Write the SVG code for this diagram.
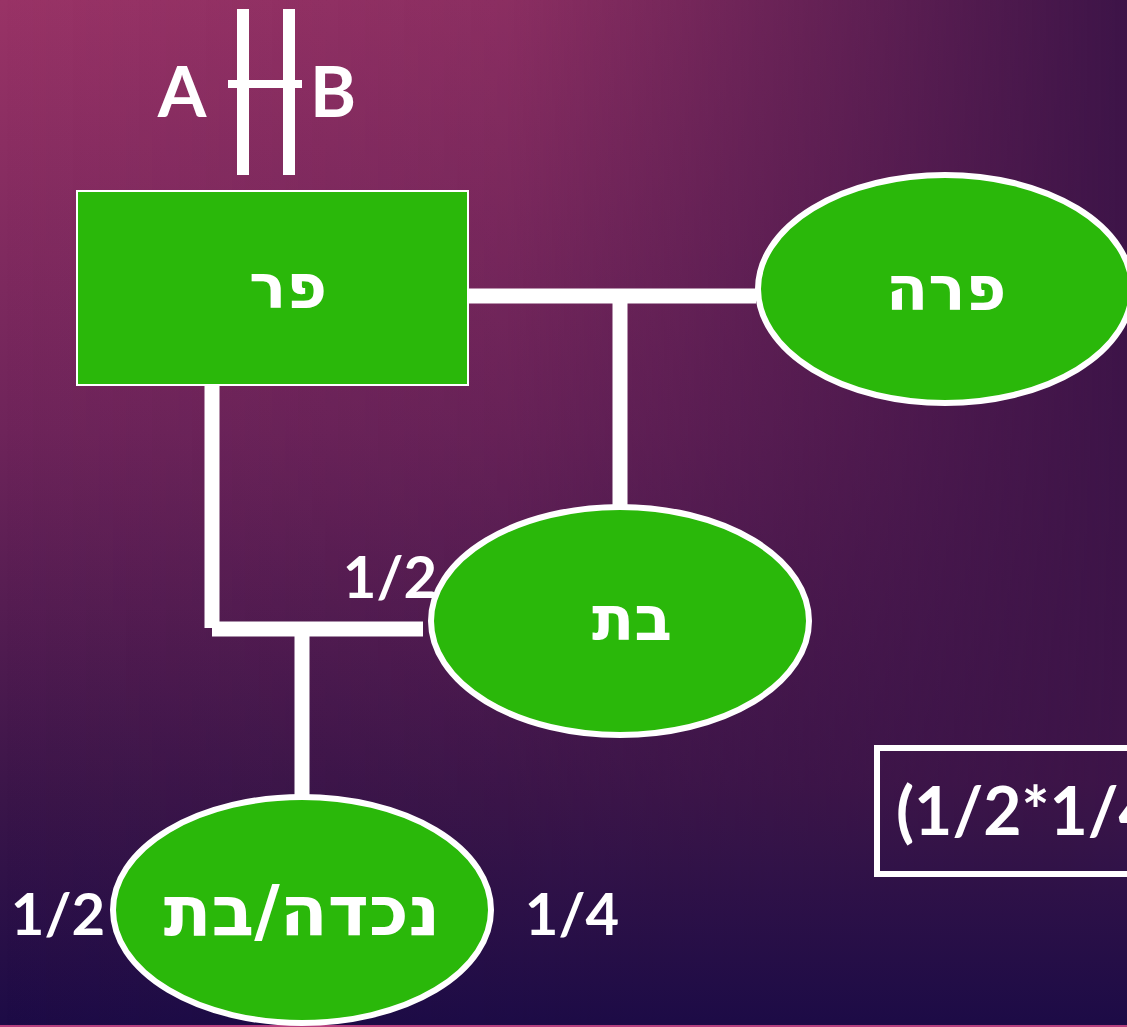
<svg xmlns="http://www.w3.org/2000/svg" width="1127" height="1027" viewBox="0 0 1127 1027">
  <defs>
    <linearGradient id="bgV" x1="0" y1="0" x2="0" y2="1027" gradientUnits="userSpaceOnUse">
      <stop offset="0" stop-color="#993366"/>
      <stop offset="0.42" stop-color="#6e245a"/>
      <stop offset="0.78" stop-color="#3a1549"/>
      <stop offset="1" stop-color="#1c0b46"/>
    </linearGradient>
    <linearGradient id="bgH" x1="0" y1="0" x2="1127" y2="0" gradientUnits="userSpaceOnUse">
      <stop offset="0" stop-color="#3d1448" stop-opacity="0"/>
      <stop offset="0.45" stop-color="#3d1448" stop-opacity="0.15"/>
      <stop offset="0.75" stop-color="#3d1448" stop-opacity="0.6"/>
      <stop offset="1" stop-color="#3d1448" stop-opacity="1"/>
    </linearGradient>
    <style>
      .node { fill: #2ab80a; stroke: #ffffff; stroke-width: 6; }
      .box { fill: #2ab80a; stroke: #ffffff; stroke-width: 2; }
      .wire { stroke: #ffffff; stroke-width: 15; fill: none; stroke-linecap: butt; }
      .heb { font-family: "DejaVu Sans", "Liberation Sans", sans-serif; font-weight: bold; font-size: 62px; fill: #ffffff; text-anchor: middle; }
      .lbl { font-family: Lato, "Open Sans", sans-serif; font-weight: bold; font-size: 58px; fill: #ffffff; }
      .big { font-size: 70px; text-anchor: middle; }
      .frame { fill: none; stroke: #ffffff; stroke-width: 6; }
    </style>
  </defs>

  <!-- background: vertical fade, darkened towards the right -->
  <rect x="0" y="0" width="1127" height="1027" fill="url(#bgV)"/>
  <rect x="0" y="0" width="1127" height="1027" fill="url(#bgH)" style="mix-blend-mode:darken"/>
  <rect x="0" y="1025" width="1127" height="2" fill="#b8407e"/>

  <!-- parent pair marker -->
  <g id="pair">
    <rect x="237" y="9" width="12" height="166" fill="#ffffff"/>
    <rect x="283" y="9" width="12" height="166" fill="#ffffff"/>
    <rect x="228" y="80" width="74" height="8" fill="#ffffff"/>
    <text class="lbl big" x="182" y="117">A</text>
    <text class="lbl big" x="333" y="117">B</text>
  </g>

  <!-- connectors -->
  <g id="connectors">
    <line class="wire" x1="469" y1="296" x2="756" y2="296"/>
    <line class="wire" x1="620" y1="296" x2="620" y2="506"/>
    <line class="wire" x1="212" y1="386" x2="212" y2="628"/>
    <line class="wire" x1="212" y1="629" x2="423" y2="629"/>
    <line class="wire" x1="302" y1="629" x2="302" y2="797"/>
  </g>

  <g id="node-par">
    <rect class="box" x="77" y="191" width="391" height="194"/>
    <text class="heb" x="288" y="308">פר</text>
  </g>

  <g id="node-para">
    <ellipse class="node" cx="945" cy="289" rx="187" ry="114"/>
    <text class="heb" x="946" y="310">פרה</text>
  </g>

  <g id="node-bat">
    <ellipse class="node" cx="620" cy="621" rx="189" ry="114"/>
    <text class="heb" x="632" y="640">בת</text>
    <text class="lbl" x="390" y="598" text-anchor="middle">1/2</text>
  </g>

  <g id="node-nechda">
    <ellipse class="node" cx="302" cy="910" rx="189" ry="113"/>
    <text class="heb" x="302" y="935" style="font-size:70px">נכדה/בת</text>
    <text class="lbl" x="58" y="935" text-anchor="middle">1/2</text>
    <text class="lbl" x="572" y="935" text-anchor="middle">1/4</text>
  </g>

  <g id="product">
    <rect class="frame" x="877" y="748" width="270" height="126"/>
    <text class="lbl" x="896" y="835" style="font-size:66px">(1/2*1/4)</text>
  </g>
</svg>
